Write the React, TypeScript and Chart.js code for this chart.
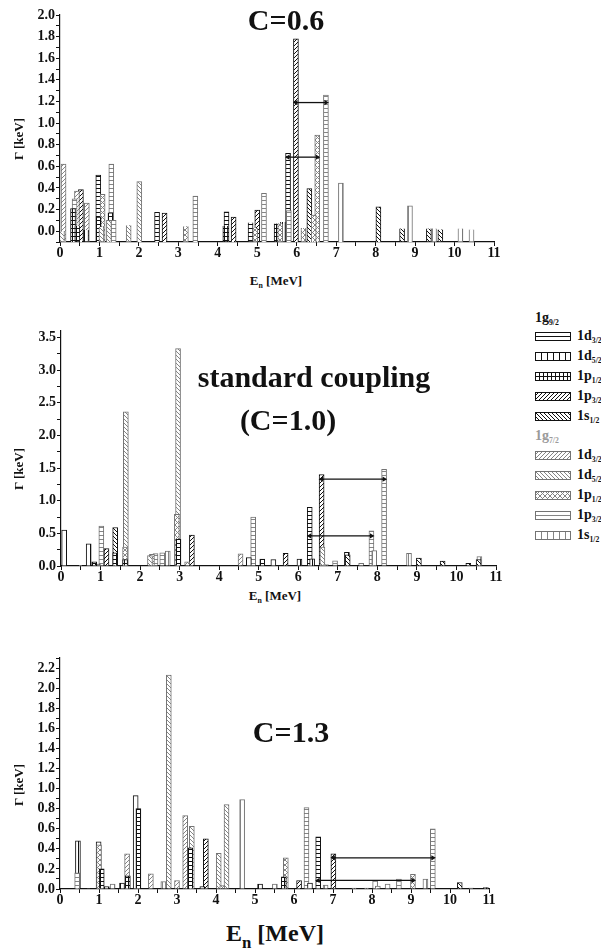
import React, { useEffect, useRef } from 'react';
import { Chart, registerables } from 'chart.js';
Chart.register(...registerables);

// Series codes
// 1g9/2 (black): A=1d3/2, B=1d5/2, C=1p1/2, D=1p3/2, E=1s1/2
// 1g7/2 (gray):  F=1d3/2, G=1d5/2, H=1p1/2, I=1p3/2, J=1s1/2

const X_TICKS = [0, 1, 2, 3, 4, 5, 6, 7, 8, 9, 10, 11];

// ---- C = 0.6 ----
const C06_E = [0.09, 0.05, 0.37, 0.33, 0.43, 0.44, 0.53, 0.68, 0.66, 0.97, 0.98, 1.08, 1.05, 1.30, 1.28, 1.24, 1.36, 1.74, 2.01, 2.46, 2.65, 3.19, 3.43, 4.19, 4.22, 4.40, 4.83, 4.95, 5.00, 5.17, 5.49, 5.58, 5.65, 5.78, 5.80, 5.98, 6.17, 6.32, 6.43, 6.52, 6.74, 7.12, 8.07, 8.67, 8.87, 9.35, 9.48, 9.64, 10.15, 10.43];
const C06_G = [0.62, 0.00, 0.30, 0.21, 0.37, 0.05, 0.385, 0.26, 0.01, 0.52, 0.13, 0.34, 0.04, 0.62, 0.17, 0.10, 0.10, 0.055, 0.46, 0.175, 0.167, 0.045, 0.325, 0.047, 0.18, 0.13, 0.08, 0.03, 0.195, 0.35, 0.07, 0.07, 0.085, 0.72, 0.19, 1.78, 0.03, 0.395, 0.15, 0.89, 1.26, 0.445, 0.225, 0.025, 0.235, 0.025, 0.025, 0.015, 0.025, 0.015];
const C06_S = ['F', 'G', 'I', 'C', 'F', 'C', 'D', 'F', 'B', 'A', 'C', 'H', 'G', 'I', 'C', 'G', 'I', 'G', 'G', 'A', 'D', 'H', 'I', 'C', 'A', 'D', 'A', 'H', 'D', 'I', 'C', 'H', 'B', 'A', 'I', 'D', 'H', 'E', 'H', 'H', 'I', 'J', 'E', 'E', 'J', 'E', 'J', 'E', 'J', 'J'];
const C06_ARROWS = [[5.78, 6.52, 0.685], [5.98, 6.74, 1.19]];
const C06_YTICKS = [0.0, 0.2, 0.4, 0.6, 0.8, 1.0, 1.2, 1.4, 1.6, 1.8, 2.0];

// ---- C = 1.0 ----
const C10_E = [0.08, 0.48, 0.70, 0.84, 0.93, 1.02, 1.15, 1.37, 1.37, 1.64, 1.62, 1.62, 2.25, 2.30, 2.39, 2.56, 2.70, 2.93, 2.96, 2.97, 3.19, 3.31, 4.54, 4.75, 4.86, 5.09, 5.37, 5.68, 6.03, 6.29, 6.35, 6.59, 6.61, 6.70, 6.93, 7.23, 7.25, 7.59, 7.85, 7.92, 8.17, 8.80, 9.05, 9.65, 10.30, 10.56, 10.58];
const C10_G = [0.55, 0.01, 0.34, 0.065, 0.03, 0.61, 0.265, 0.59, 0.20, 2.36, 0.29, 0.10, 0.16, 0.18, 0.19, 0.20, 0.23, 0.79, 3.33, 0.41, 0.065, 0.475, 0.185, 0.13, 0.75, 0.105, 0.10, 0.195, 0.107, 0.90, 0.11, 1.40, 0.29, 0.02, 0.08, 0.21, 0.17, 0.04, 0.54, 0.235, 1.48, 0.195, 0.12, 0.075, 0.04, 0.10, 0.145];
const C10_S = ['B', 'B', 'B', 'C', 'B', 'I', 'D', 'E', 'C', 'G', 'H', 'C', 'G', 'H', 'I', 'I', 'J', 'H', 'G', 'C', 'H', 'D', 'F', 'B', 'I', 'C', 'B', 'D', 'B', 'A', 'B', 'D', 'G', 'G', 'I', 'B', 'E', 'I', 'I', 'J', 'I', 'J', 'E', 'E', 'E', 'E', 'J'];
const C10_ARROWS = [[6.29, 7.85, 0.46], [6.59, 8.17, 1.33]];
const C10_YTICKS = [0.0, 0.5, 1.0, 1.5, 2.0, 2.5, 3.0, 3.5];

// ---- C = 1.3 ----
const C13_E = [0.46, 0.44, 0.74, 0.99, 1.00, 1.07, 1.20, 1.35, 1.59, 1.72, 1.74, 1.94, 2.01, 2.33, 2.65, 2.79, 3.00, 3.21, 3.38, 3.34, 3.65, 3.74, 4.07, 4.16, 4.27, 4.67, 5.13, 5.51, 5.74, 5.79, 6.13, 6.32, 6.41, 6.62, 6.81, 7.01, 7.54, 7.86, 8.08, 8.15, 8.40, 8.69, 9.05, 9.37, 9.56, 10.25, 10.54, 10.92];
const C13_G = [0.48, 0.16, 0.005, 0.47, 0.44, 0.20, 0.025, 0.05, 0.06, 0.35, 0.13, 0.93, 0.80, 0.15, 0.075, 2.13, 0.085, 0.73, 0.625, 0.41, 0.025, 0.50, 0.355, 0.035, 0.84, 0.89, 0.05, 0.05, 0.12, 0.31, 0.085, 0.81, 0.06, 0.52, 0.04, 0.35, 0.01, 0.01, 0.08, 0.03, 0.05, 0.10, 0.145, 0.10, 0.60, 0.065, 0.01, 0.015];
const C13_S = ['B', 'I', 'B', 'A', 'H', 'C', 'B', 'J', 'B', 'F', 'C', 'B', 'C', 'F', 'J', 'G', 'F', 'F', 'G', 'C', 'B', 'D', 'G', 'H', 'G', 'J', 'B', 'J', 'C', 'H', 'D', 'I', 'B', 'A', 'J', 'D', 'J', 'J', 'J', 'I', 'J', 'I', 'H', 'J', 'I', 'E', 'B', 'B'];
const C13_ARROWS = [[6.62, 9.05, 0.085], [7.01, 9.56, 0.31]];
const C13_YTICKS = [0.0, 0.2, 0.4, 0.6, 0.8, 1.0, 1.2, 1.4, 1.6, 1.8, 2.0, 2.2];

const LEGEND_G9 = [['1d', '3/2', 'A'], ['1d', '5/2', 'B'], ['1p', '1/2', 'C'], ['1p', '3/2', 'D'], ['1s', '1/2', 'E']];
const LEGEND_G7 = [['1d', '3/2', 'F'], ['1d', '5/2', 'G'], ['1p', '1/2', 'H'], ['1p', '3/2', 'I'], ['1s', '1/2', 'J']];

const SERIF = '"Liberation Serif", "Times New Roman", Times, serif';
const BLACK = '#111111';
const GRAY_LINE = '#858585';
const GRAY_EDGE = '#737373';

const STYLES: Record<string, { kind: string; gray: boolean }> = {
  A: { kind: 'h', gray: false },
  B: { kind: 'v', gray: false },
  C: { kind: 'grid', gray: false },
  D: { kind: 'f', gray: false },
  E: { kind: 'b', gray: false },
  F: { kind: 'f', gray: true },
  G: { kind: 'b', gray: true },
  H: { kind: 'x', gray: true },
  I: { kind: 'h', gray: true },
  J: { kind: 'v', gray: true },
};

function makePattern(ctx: CanvasRenderingContext2D, code: string) {
  const st = STYLES[code];
  const size = st.kind === 'v' ? 6 : st.kind === 'x' ? 5 : 4;
  const c = document.createElement('canvas');
  c.width = size;
  c.height = size;
  const g = c.getContext('2d')!;
  g.fillStyle = '#ffffff';
  g.fillRect(0, 0, size, size);
  g.strokeStyle = st.gray ? GRAY_LINE : BLACK;
  g.lineWidth = 1;
  const line = (a: number, b: number, cc: number, d: number) => {
    g.beginPath();
    g.moveTo(a, b);
    g.lineTo(cc, d);
    g.stroke();
  };
  const k = st.kind;
  if (k === 'h' || k === 'grid') line(0, 0.5, size, 0.5);
  if (k === 'v' || k === 'grid') line(0.5, 0, 0.5, size);
  if (k === 'f' || k === 'x') {
    line(0, size, size, 0);
    line(-1, 1, 1, -1);
    line(size - 1, size + 1, size + 1, size - 1);
  }
  if (k === 'b' || k === 'x') {
    line(0, 0, size, size);
    line(-1, size - 1, 1, size + 1);
    line(size - 1, -1, size + 1, 1);
  }
  return ctx.createPattern(c, 'repeat')!;
}

type PanelCfg = {
  E: number[]; G: number[]; S: string[]; arrows: number[][];
  ymin: number; ymax: number; minor: number; majors: number[];
  top: number; height: number; padTop: number; padRight: number; yw: number; barW: number;
};

const PANELS: PanelCfg[] = [
  { E: C06_E, G: C06_G, S: C06_S, arrows: C06_ARROWS, ymin: -0.1, ymax: 2.0, minor: 0.1, majors: C06_YTICKS, top: 0, height: 262, padTop: 15, padRight: 36, yw: 60, barW: 5 },
  { E: C10_E, G: C10_G, S: C10_S, arrows: C10_ARROWS, ymin: 0, ymax: 3.6, minor: 0.25, majors: C10_YTICKS, top: 315, height: 271, padTop: 16, padRight: 34, yw: 61, barW: 5 },
  { E: C13_E, G: C13_G, S: C13_S, arrows: C13_ARROWS, ymin: 0, ymax: 2.3, minor: 0.1, majors: C13_YTICKS, top: 645, height: 264, padTop: 13, padRight: 41, yw: 60, barW: 5 },
];

const CW = 530;

function Panel({ p }: { p: PanelCfg }) {
  const ref = useRef<HTMLCanvasElement>(null);
  useEffect(() => {
    const canvas = ref.current!;
    const ctx = canvas.getContext('2d')!;
    const pats: Record<string, CanvasPattern> = {};
    Object.keys(STYLES).forEach((c) => (pats[c] = makePattern(ctx, c)));
    const idx = p.E.map((_, i) => i).sort((a, b) => p.G[b] - p.G[a]);
    const barData = idx.map((i) => ({ x: p.E[i], y: [p.ymin, p.G[i]] }));
    const bg = idx.map((i) => pats[p.S[i]]);
    const bc = idx.map((i) => (STYLES[p.S[i]].gray ? GRAY_EDGE : BLACK));

    const xTickVals: number[] = [];
    X_TICKS.forEach((v, i) => {
      xTickVals.push(v);
      if (i < X_TICKS.length - 1) xTickVals.push((v + X_TICKS[i + 1]) / 2);
    });
    const yTickVals: number[] = [];
    for (let k = 0; ; k++) {
      const v = Math.round((p.ymin + k * p.minor) * 1000) / 1000;
      if (v > p.ymax + 1e-9) break;
      yTickVals.push(v);
    }
    const isMajor = (v: number) => p.majors.some((m) => Math.abs(m - v) < 1e-6);
    const tickFont = { family: SERIF, size: 14, weight: 'bold' as const };

    const datasets: any[] = [
      {
        type: 'bar',
        data: barData,
        backgroundColor: bg,
        borderColor: bc,
        borderWidth: 1,
        barThickness: p.barW,
        grouped: false,
        order: 1,
      },
      ...p.arrows.map((a) => ({
        type: 'line',
        data: [{ x: a[0], y: a[2] }, { x: a[1], y: a[2] }],
        borderColor: BLACK,
        borderWidth: 1.3,
        pointStyle: 'triangle',
        pointRadius: 3,
        pointRotation: [-90, 90],
        pointBackgroundColor: BLACK,
        pointBorderColor: BLACK,
        pointBorderWidth: 0,
        order: 0,
      })),
    ];

    const chart = new Chart(ctx, {
      type: 'bar',
      data: { datasets },
      options: {
        responsive: false,
        animation: false,
        events: [],
        layout: { padding: { top: p.padTop, right: p.padRight, left: 0, bottom: 0 } },
        plugins: { legend: { display: false }, tooltip: { enabled: false }, title: { display: false } },
        scales: {
          x: {
            type: 'linear',
            min: 0,
            max: 11,
            offset: false,
            afterBuildTicks: (s: any) => {
              s.ticks = xTickVals.map((v) => ({ value: v }));
            },
            afterFit: (s: any) => {
              s.height = 20;
            },
            ticks: {
              autoSkip: false,
              maxRotation: 0,
              padding: -1,
              color: BLACK,
              font: tickFont,
              callback: (v: any) => (Math.abs(v - Math.round(v)) < 1e-6 ? String(Math.round(v)) : ''),
            },
            grid: { offset: false, drawOnChartArea: false, drawTicks: true, tickLength: 4, color: BLACK, lineWidth: 1 },
            border: { display: true, color: BLACK, width: 1.2 },
          },
          y: {
            type: 'linear',
            min: p.ymin,
            max: p.ymax,
            afterBuildTicks: (s: any) => {
              s.ticks = yTickVals.map((v) => ({ value: v }));
            },
            afterFit: (s: any) => {
              s.width = p.yw;
            },
            ticks: {
              autoSkip: false,
              padding: 1,
              color: BLACK,
              font: tickFont,
              callback: (v: any) => (isMajor(v) && v >= -1e-9 ? Number(v).toFixed(1) : ''),
            },
            grid: { drawOnChartArea: false, drawTicks: true, tickLength: 4, color: BLACK, lineWidth: 1 },
            border: { display: true, color: BLACK, width: 1.2 },
          },
        },
      } as any,
    });
    return () => chart.destroy();
  }, []);
  return (
    <canvas
      ref={ref}
      width={CW}
      height={p.height}
      style={{ position: 'absolute', left: 0, top: p.top, width: CW, height: p.height }}
    />
  );
}

function Swatch({ code, top }: { code: string; top: number }) {
  const ref = useRef<HTMLCanvasElement>(null);
  useEffect(() => {
    const c = ref.current!;
    const g = c.getContext('2d')!;
    g.clearRect(0, 0, c.width, c.height);
    g.fillStyle = makePattern(g, code);
    g.fillRect(0, 0, c.width, c.height);
    g.strokeStyle = STYLES[code].gray ? GRAY_EDGE : BLACK;
    g.lineWidth = 1;
    g.strokeRect(0.5, 0.5, c.width - 1, c.height - 1);
  }, []);
  return (
    <canvas ref={ref} width={36} height={9} style={{ position: 'absolute', left: 535, top: top - 4.5, width: 36, height: 9 }} />
  );
}

const txtBase: React.CSSProperties = {
  position: 'absolute',
  fontFamily: SERIF,
  fontWeight: 'bold',
  lineHeight: 1,
  whiteSpace: 'nowrap',
  color: BLACK,
};

function T({ x, y, size, rot, children, color }: any) {
  return (
    <div
      style={{
        ...txtBase,
        left: x,
        top: y,
        fontSize: size,
        color: color || BLACK,
        transform: `translate(-50%, -50%)${rot ? ' rotate(-90deg)' : ''}`,
      }}
    >
      {children}
    </div>
  );
}

function Sub({ children, scale = 0.6, drop = 0.35 }: any) {
  return <span style={{ fontSize: `${scale}em`, position: 'relative', top: `${drop}em` }}>{children}</span>;
}

function LegendLabel({ y, main, sub, color }: any) {
  return (
    <div style={{ ...txtBase, left: 577, top: y, fontSize: 14, color: color || BLACK, transform: 'translateY(-50%)' }}>
      {main}
      <Sub scale={0.55} drop={0.4}>{sub}</Sub>
    </div>
  );
}

export default function App() {
  const g9Rows = [336, 356, 376, 396, 416];
  const g7Rows = [455, 475, 495, 515, 535];
  return (
    <div style={{ position: 'fixed', left: 0, top: 0, width: 601, height: 951, overflow: 'hidden', background: '#ffffff' }}>
      {PANELS.map((p, i) => (
        <Panel key={i} p={p} />
      ))}

      <T x={286} y={20} size={30}>C=0.6</T>
      <T x={18} y={139} size={13} rot>Γ [keV]</T>
      <T x={276} y={280} size={13}>E<Sub>n</Sub> [MeV]</T>

      <T x={314} y={377} size={30}>standard coupling</T>
      <T x={288} y={420} size={30}>(C=1.0)</T>
      <T x={18} y={469} size={13} rot>Γ [keV]</T>
      <T x={275} y={595} size={13}>E<Sub>n</Sub> [MeV]</T>

      <T x={291} y={732} size={30}>C=1.3</T>
      <T x={18} y={785} size={13} rot>Γ [keV]</T>
      <T x={275} y={933} size={24}>E<Sub scale={0.7} drop={0.4}>n</Sub> [MeV]</T>

      <div style={{ ...txtBase, left: 535, top: 318, fontSize: 14, transform: 'translateY(-50%)' }}>
        1g<Sub scale={0.55} drop={0.4}>9/2</Sub>
      </div>
      {LEGEND_G9.map((r, i) => (
        <React.Fragment key={'a' + i}>
          <Swatch code={r[2]} top={g9Rows[i]} />
          <LegendLabel y={g9Rows[i]} main={r[0]} sub={r[1]} />
        </React.Fragment>
      ))}
      <div style={{ ...txtBase, left: 535, top: 436, fontSize: 14, color: '#9a9a9a', transform: 'translateY(-50%)' }}>
        1g<Sub scale={0.55} drop={0.4}>7/2</Sub>
      </div>
      {LEGEND_G7.map((r, i) => (
        <React.Fragment key={'b' + i}>
          <Swatch code={r[2]} top={g7Rows[i]} />
          <LegendLabel y={g7Rows[i]} main={r[0]} sub={r[1]} />
        </React.Fragment>
      ))}
    </div>
  );
}
